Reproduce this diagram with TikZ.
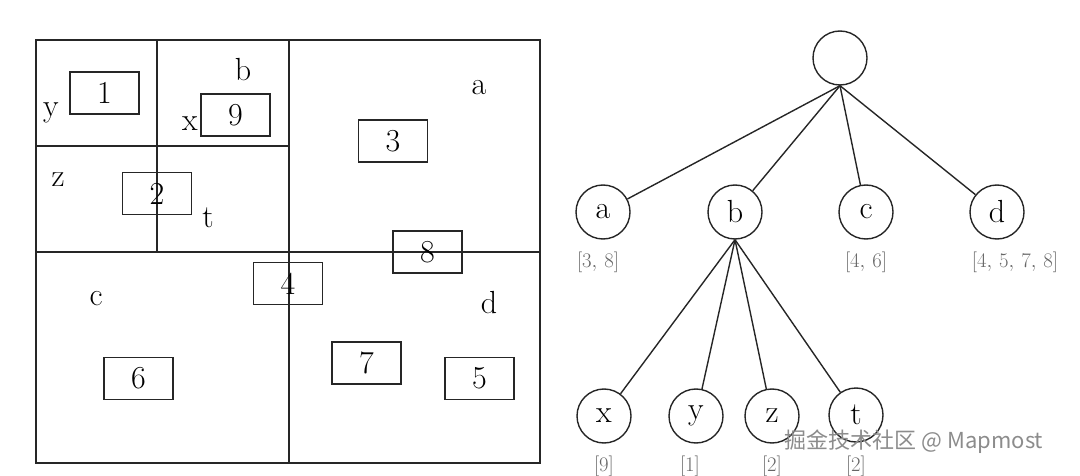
\documentclass[tikz,border=0pt]{standalone}
\usepackage{fontspec}
\newfontfamily\cjk{Noto Sans CJK SC}
\begin{document}
\begin{tikzpicture}[x=1pt,y=-1pt,line width=1.4pt,draw=black!85,
  rbox/.style={draw,minimum width=69pt,minimum height=42pt,inner sep=0pt,font=\fontsize{32}{34}\selectfont},
  lbl/.style={inner sep=0pt,font=\fontsize{32}{34}\selectfont},
  tnode/.style={draw,circle,minimum size=54pt,inner sep=0pt,font=\fontsize{32}{34}\selectfont},
  tlbl/.style={inner sep=0pt,text=black!60,font=\fontsize{22}{24}\selectfont}]
\useasboundingbox (0,0) rectangle (1080,476);
% region diagram
\draw (36,40) rectangle (540,463);
\draw (157,40) -- (157,252);
\draw (36,146) -- (289,146);
\draw (289,40) -- (289,463);
\draw (36,252) -- (540,252);
\node[rbox] (r1) at (104.5,93) {1};
\node[rbox] (r9) at (235.5,115) {9};
\node[rbox] (r2) at (157,193.5) {2};
\node[rbox] (r3) at (393,141) {3};
\node[rbox] (r8) at (427.5,252) {8};
\node[rbox] (r4) at (288,283.5) {4};
\node[rbox] (r6) at (138.5,378.5) {6};
\node[rbox] (r7) at (366.5,363) {7};
\node[rbox] (r5) at (479.5,378.5) {5};
\node[lbl] (ly) at (51,113) {y};
\node[lbl] (lx) at (190,124) {x};
\node[lbl] (lb) at (243,70) {b};
\node[lbl] (lz) at (58,180) {z};
\node[lbl] (lt) at (208,218) {t};
\node[lbl] (la) at (479,88) {a};
\node[lbl] (lc) at (96,299) {c};
\node[lbl] (ld) at (489,303) {d};
% tree
\node[tnode] (root) at (840,58) {};
\node[tnode] (a) at (603,212) {a};
\node[tnode] (b) at (735,212) {b};
\node[tnode] (c) at (866,212) {c};
\node[tnode] (d) at (997,212) {d};
\node[tnode] (x) at (604,416) {x};
\node[tnode] (y) at (696,416) {y};
\node[tnode] (z) at (772,416) {z};
\node[tnode] (t) at (856,415) {t};
\foreach \n in {a,b,c,d} \draw (root.south) -- (\n);
\foreach \n in {x,y,z,t} \draw (b.south) -- (\n);
\node[tlbl] (la2) at (598,262) {$[3,\,8]$};
\node[tlbl] (lc2) at (866,262) {$[4,\,6]$};
\node[tlbl] (ld2) at (1015,262) {$[4,\,5,\,7,\,8]$};
\node[tlbl] (lx2) at (604,466) {$[9]$};
\node[tlbl] (ly2) at (690,466) {$[1]$};
\node[tlbl] (lz2) at (772,466) {$[2]$};
\node[tlbl] (lt2) at (856,466) {$[2]$};
\node[inner sep=0pt,text=black!45,font=\cjk\fontsize{22}{24}\selectfont] (wm) at (914,442) {掘金技术社区 @ Mapmost};
\end{tikzpicture}
\end{document}
